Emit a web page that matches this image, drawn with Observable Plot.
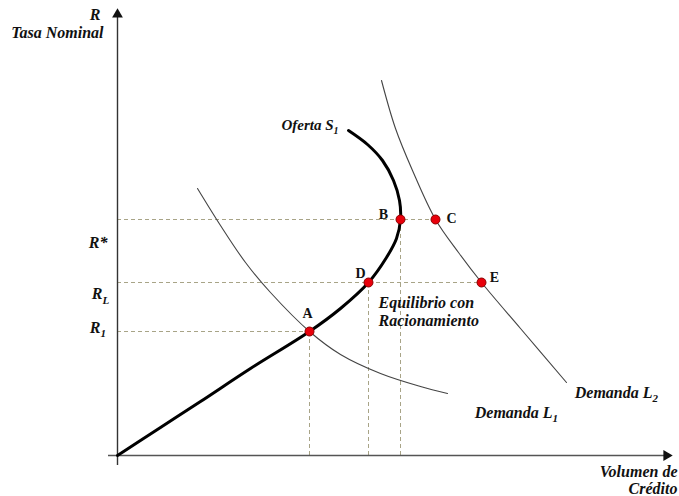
<!DOCTYPE html>
<html>
<head>
<meta charset="utf-8">
<script src="https://cdn.jsdelivr.net/npm/d3@7"></script>
<script src="https://cdn.jsdelivr.net/npm/@observablehq/plot@0.6"></script>
<style>
  html, body { margin: 0; padding: 0; background: #fff; }
</style>
</head>
<body>
<div id="chart"></div>
<script>
// Data in chart units (x = credit volume, y = nominal rate)
const supplyX = [0, 43, 83, 133, 192, 223, 251, 269, 279, 283, 282, 276, 265, 250, 231];
const supplyY = [0, 28, 54, 87, 124, 147, 173, 198, 217, 236, 255, 275, 295, 311, 325];
const demand1X = [80, 103, 128, 153, 192, 223, 263, 303, 330];
const demand1Y = [267, 230, 193, 163, 124, 101, 82, 69, 62];
const demand2X = [264, 278, 295, 318, 341, 364, 403, 449];
const demand2Y = [375, 327, 285, 236, 203, 173, 127, 73];
const pointNames = ["A", "B", "C", "D", "E"];
const pointX = [192, 283, 318, 251, 364];
const pointY = [124, 236, 236, 173, 173];
// dashed guides: horizontal to C, E, A ; vertical from A, D, B
const hGuideY = [236, 173, 124];
const hGuideX = [318, 364, 192];
const vGuideX = [192, 251, 283];
const vGuideY = [124, 173, 236];

const supply = supplyX.map((x, i) => ({x, y: supplyY[i]}));
const demand1 = demand1X.map((x, i) => ({x, y: demand1Y[i]}));
const demand2 = demand2X.map((x, i) => ({x, y: demand2Y[i]}));
const points = pointNames.map((n, i) => ({n, x: pointX[i], y: pointY[i]}));
const hGuides = hGuideY.map((y, i) => ({y, x2: hGuideX[i]}));
const vGuides = vGuideX.map((x, i) => ({x, y2: vGuideY[i]}));

const font = {fontFamily: "Liberation Serif", fontWeight: "bold", fontStyle: "italic", fill: "#111"};
const T = (text, x, y, anchor, size = 16) =>
  Plot.text([{x, y}], {x: "x", y: "y", text: () => text, textAnchor: anchor, fontSize: size, ...font});

// label offsets in pixels [dx, dy]
const pointLabelOffset = {A: [-2, -18], B: [-17, -5], C: [16, -1], D: [-8, -9], E: [13, -5]};
const pointLabels = points.map(p =>
  Plot.text([p], {x: "x", y: "y", text: "n", fontSize: 14, ...font, fontStyle: "normal",
    dx: pointLabelOffset[p.n][0], dy: pointLabelOffset[p.n][1]}));

const chart = Plot.plot({
  width: 679,
  height: 496,
  marginLeft: 117,
  marginRight: 11,
  marginTop: 8,
  marginBottom: 41,
  x: {domain: [0, 551], axis: null},
  y: {domain: [0, 447], axis: null},
  style: {background: "#fff", overflow: "visible"},
  marks: [
    Plot.ruleY(hGuides, {y: "y", x1: 0, x2: "x2", stroke: "#a8a487", strokeWidth: 1, strokeDasharray: "4,3"}),
    Plot.ruleX(vGuides, {x: "x", y1: 0, y2: "y2", stroke: "#a8a487", strokeWidth: 1, strokeDasharray: "4,3"}),
    Plot.ruleX([0], {y1: -10, y2: 441, stroke: "#333", strokeWidth: 1.4}),
    Plot.ruleY([0], {x1: -9, x2: 549, stroke: "#555", strokeWidth: 1.4}),
    Plot.dot([{x: 0, y: 441}], {x: "x", y: "y", symbol: "triangle", r: 4, fill: "#111", stroke: "none"}),
    Plot.dot([{x: 549, y: 0}], {x: "x", y: "y", symbol: "triangle", r: 4, fill: "#111", stroke: "none", rotate: 90}),
    Plot.line(demand1, {x: "x", y: "y", curve: "catmull-rom", stroke: "#444", strokeWidth: 1.1}),
    Plot.line(demand2, {x: "x", y: "y", curve: "catmull-rom", stroke: "#444", strokeWidth: 1.1}),
    Plot.line(supply, {x: "x", y: "y", curve: "catmull-rom", stroke: "#000", strokeWidth: 3}),
    Plot.dot(points, {x: "x", y: "y", r: 4.5, fill: "#e8000b", stroke: "#8b0000", strokeWidth: 1}),
    ...pointLabels,
    T("R", -17, 441, "end"),
    T("Tasa Nominal", -14, 423, "end"),
    T("R*", -10, 213, "end"),
    T("R", -15, 162, "end"),
    T("L", -15, 155, "start", 11),
    T("R", -17, 128, "end"),
    T("1", -17, 122, "start", 11),
    T("Oferta S", 216, 330, "end", 15),
    T("1", 216, 325, "start", 10),
    T("Equilibrio con", 261, 153, "start"),
    T("Racionamiento", 261, 135, "start"),
    T("Demanda L", 535, 63, "end"),
    T("2", 535, 57, "start", 11),
    T("Demanda L", 435, 43, "end"),
    T("1", 435, 37, "start", 11),
    T("Volumen de", 560, -16, "end"),
    T("Crédito", 560, -33, "end")
  ]
});
document.getElementById("chart").appendChild(chart);
</script>
</body>
</html>
